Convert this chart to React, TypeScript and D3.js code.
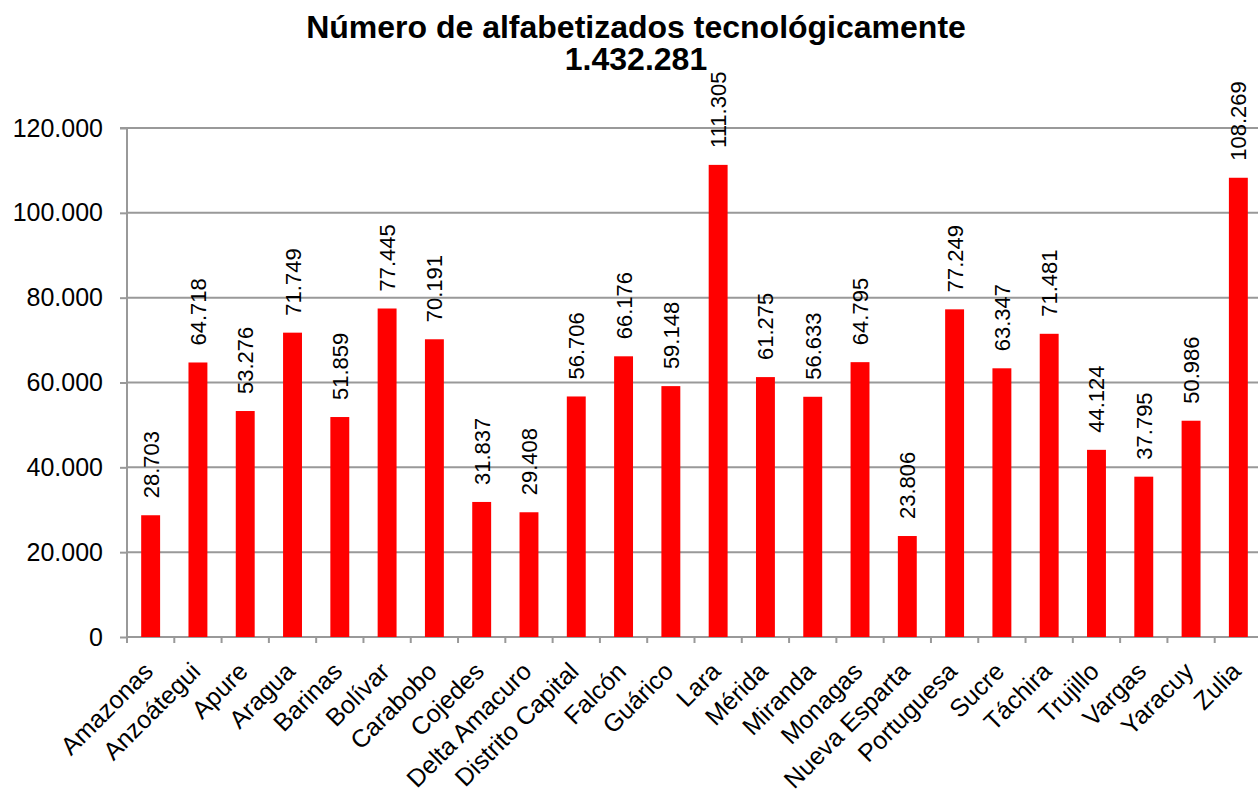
import React, { useRef, useEffect } from 'react';
import * as d3 from 'd3';

const estados = [
  'Amazonas', 'Anzoátegui', 'Apure', 'Aragua', 'Barinas', 'Bolívar', 'Carabobo',
  'Cojedes', 'Delta Amacuro', 'Distrito Capital', 'Falcón', 'Guárico', 'Lara',
  'Mérida', 'Miranda', 'Monagas', 'Nueva Esparta', 'Portuguesa', 'Sucre',
  'Táchira', 'Trujillo', 'Vargas', 'Yaracuy', 'Zulia',
];

const alfabetizados = [
  28703, 64718, 53276, 71749, 51859, 77445, 70191, 31837, 29408, 56706, 66176,
  59148, 111305, 61275, 56633, 64795, 23806, 77249, 63347, 71481, 44124, 37795,
  50986, 108269,
];

const yTicks = [0, 20000, 40000, 60000, 80000, 100000, 120000];

const titleLines = ['Número de alfabetizados tecnológicamente', '1.432.281'];

const width = 1258;
const height = 795;
const margin = { top: 128, right: -4, bottom: 158, left: 127 };

const esLocale = d3.formatLocale({
  decimal: ',',
  thousands: '.',
  grouping: [3],
  currency: ['', ''],
});
const fmt = esLocale.format(',d');

const App = () => {
  const ref = useRef<SVGSVGElement | null>(null);

  useEffect(() => {
    if (!ref.current) return;
    const svg = d3.select(ref.current);
    svg.selectAll('*').remove();

    const font = 'Liberation Sans, Arial, sans-serif';
    const x0 = margin.left;
    const x1 = width - margin.right;
    const yBottom = height - margin.bottom;

    const x = d3.scaleBand<string>()
      .domain(estados)
      .range([x0, x1])
      .paddingInner(0.6)
      .paddingOuter(0.3);

    const y = d3.scaleLinear()
      .domain([0, 120000])
      .range([yBottom, margin.top]);

    // gridlines
    svg.append('g')
      .selectAll('line')
      .data(yTicks.filter(d => d > 0))
      .enter()
      .append('line')
      .attr('x1', x0)
      .attr('x2', x1)
      .attr('y1', d => y(d))
      .attr('y2', d => y(d))
      .attr('stroke', '#999')
      .attr('stroke-width', 2);

    // y axis
    const yAxis = d3.axisLeft(y)
      .tickValues(yTicks)
      .tickSize(7)
      .tickPadding(17)
      .tickFormat(d => fmt(d as number));

    const yg = svg.append('g')
      .attr('transform', `translate(${x0},0)`)
      .call(yAxis);
    yg.select('.domain').attr('stroke', '#999').attr('stroke-width', 2).attr('d', `M-7,${margin.top}H0V${yBottom}`);
    yg.selectAll('.tick line').attr('stroke', '#999').attr('stroke-width', 2);
    yg.selectAll('.tick text')
      .attr('font-family', font)
      .attr('font-size', 25)
      .attr('fill', '#000');

    // x axis baseline and ticks at band boundaries
    const step = x.step();
    const boundaries = d3.range(estados.length + 1).map(i => x0 + i * step);
    svg.append('line')
      .attr('x1', x0)
      .attr('x2', x1)
      .attr('y1', yBottom)
      .attr('y2', yBottom)
      .attr('stroke', '#999')
      .attr('stroke-width', 2);
    svg.append('g')
      .selectAll('line')
      .data(boundaries)
      .enter()
      .append('line')
      .attr('x1', d => d)
      .attr('x2', d => d)
      .attr('y1', yBottom)
      .attr('y2', yBottom + 6)
      .attr('stroke', '#999')
      .attr('stroke-width', 2);

    // bars
    svg.append('g')
      .selectAll('rect')
      .data(alfabetizados)
      .enter()
      .append('rect')
      .attr('x', (d, i) => x(estados[i]) as number)
      .attr('y', d => y(d))
      .attr('width', x.bandwidth())
      .attr('height', d => yBottom - y(d))
      .attr('fill', '#ff0000');

    // value labels
    svg.append('g')
      .selectAll('text')
      .data(alfabetizados)
      .enter()
      .append('text')
      .attr('transform', (d, i) => {
        const cx = (x(estados[i]) as number) + x.bandwidth() / 2 + 8;
        return `translate(${cx},${y(d) - 17}) rotate(-90)`;
      })
      .attr('text-anchor', 'start')
      .attr('font-family', font)
      .attr('font-size', 22)
      .attr('fill', '#000')
      .text(d => fmt(d));

    // category labels
    svg.append('g')
      .selectAll('text')
      .data(estados)
      .enter()
      .append('text')
      .attr('transform', d => {
        const cx = (x(d) as number) + x.bandwidth() / 2 + 4;
        return `translate(${cx},${yBottom + 36}) rotate(-45)`;
      })
      .attr('text-anchor', 'end')
      .attr('font-family', font)
      .attr('font-size', 25)
      .attr('fill', '#000')
      .text(d => d);

    // title
    svg.append('text')
      .attr('x', 636)
      .attr('y', 38)
      .attr('text-anchor', 'middle')
      .attr('font-family', font)
      .attr('font-weight', 'bold')
      .attr('font-size', 32)
      .selectAll('tspan')
      .data(titleLines)
      .enter()
      .append('tspan')
      .attr('x', 636)
      .attr('dy', (d, i) => (i === 0 ? 0 : 32))
      .text(d => d);
  }, []);

  return (
    <div style={{ position: 'absolute', left: 0, top: 0 }}>
      <svg ref={ref} width={width} height={height} style={{ display: 'block', background: '#fff' }}></svg>
    </div>
  );
};

export default App;
